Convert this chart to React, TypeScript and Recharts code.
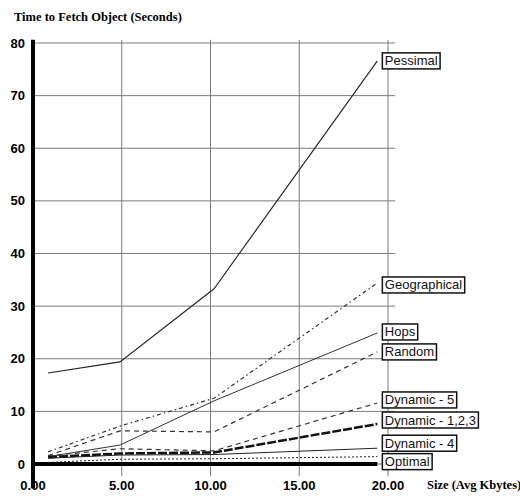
import React from 'react';
import { LineChart, Line, XAxis, YAxis, ReferenceLine } from 'recharts';

// object sizes (avg Kbytes) where each run was measured
const sizes = [0.85, 4.9, 10.2, 19.4];

// time to fetch (seconds) per policy
const pessimal = [17.3, 19.4, 33.3, 76.6];
const geographical = [2.3, 7.2, 12.5, 34.4];
const hops = [1.4, 3.6, 12.0, 24.9];
const random = [1.6, 6.3, 6.1, 21.3];
const dynamic5 = [1.5, 2.9, 2.5, 11.6];
const dynamic123 = [1.3, 2.0, 2.2, 7.6];
const dynamic4 = [1.1, 1.7, 1.8, 3.0];
const optimal = [0.3, 0.9, 1.0, 1.4];

const xTicks = [0, 5, 10, 15, 20];
const yTicks = [0, 10, 20, 30, 40, 50, 60, 70, 80];

const series = [
  { key: 'pessimal', name: 'Pessimal', values: pessimal, stroke: '#222', width: 1.1, dash: undefined, dy: 0 },
  { key: 'geo', name: 'Geographical', values: geographical, stroke: '#333', width: 1.2, dash: '4 3 1.5 3', dy: 2 },
  { key: 'hops', name: 'Hops', values: hops, stroke: '#333', width: 1, dash: undefined, dy: -1 },
  { key: 'random', name: 'Random', values: random, stroke: '#333', width: 1.2, dash: '5 4', dy: 0 },
  { key: 'dyn5', name: 'Dynamic - 5', values: dynamic5, stroke: '#333', width: 1.2, dash: '5 4', dy: -3 },
  { key: 'dyn123', name: 'Dynamic - 1,2,3', values: dynamic123, stroke: '#111', width: 2.5, dash: '9 2', dy: -4 },
  { key: 'dyn4', name: 'Dynamic - 4', values: dynamic4, stroke: '#222', width: 1, dash: undefined, dy: -5 },
  { key: 'optimal', name: 'Optimal', values: optimal, stroke: '#222', width: 1, dash: '2 2', dy: 5 },
];

const data = sizes.map((x, i) => {
  const row: Record<string, number> = { x };
  series.forEach((s) => { row[s.key] = s.values[i]; });
  return row;
});

const LABEL_FONT = '13px "Liberation Sans", Arial, sans-serif';
let ctx: CanvasRenderingContext2D | null = null;
const textWidth = (t: string) => {
  if (!ctx) ctx = document.createElement('canvas').getContext('2d');
  if (!ctx) return t.length * 7;
  ctx.font = LABEL_FONT;
  return ctx.measureText(t).width;
};

// boxed name at the end of each line
const endLabel = (name: string, dy: number) => (props: any) => {
  const { x, y, index } = props;
  if (index !== sizes.length - 1) return null;
  const w = textWidth(name) + 5;
  const bx = x + 5;
  const cy = y + dy;
  return (
    <g key={name}>
      <rect x={bx} y={cy - 8} width={w} height={16} fill="#fff" stroke="#111" strokeWidth={1.5} />
      <text x={bx + 2.5} y={cy + 4.5} fontSize={13} fontFamily='"Liberation Sans", Arial, sans-serif' fill="#111">
        {name}
      </text>
    </g>
  );
};

const tickFont = { fontSize: 13, fontWeight: 700, fontFamily: '"Liberation Sans", Arial, sans-serif', fill: '#000' };

export default function App() {
  const lastX = sizes[sizes.length - 1];
  return (
    <div style={{ position: 'absolute', left: 0, top: 0, width: 520, height: 496, background: '#fff' }}>
      <LineChart width={520} height={496} data={data} margin={{ top: 43, right: 132, left: 0, bottom: 0 }}>
        <XAxis
          dataKey="x"
          type="number"
          domain={[0, 20]}
          ticks={xTicks}
          tickFormatter={(v) => Number(v).toFixed(2)}
          height={32}
          axisLine={false}
          tickLine={false}
          tickSize={12}
          tickMargin={5}
          tick={tickFont}
          allowDataOverflow
        />
        <YAxis
          type="number"
          domain={[0, 80]}
          ticks={yTicks}
          width={33}
          axisLine={false}
          tickLine={false}
          tick={tickFont}
        />
        {yTicks.map((t) => (
          <ReferenceLine key={'h' + t} segment={[{ x: 0, y: t }, { x: 20.4, y: t }]} stroke="#7a7a7a" strokeWidth={1} ifOverflow="visible" />
        ))}
        {xTicks.slice(1).map((t) => (
          <ReferenceLine key={'v' + t} segment={[{ x: t, y: -2.3 }, { x: t, y: 80.6 }]} stroke="#7a7a7a" strokeWidth={1} ifOverflow="visible" />
        ))}
        <ReferenceLine segment={[{ x: 0, y: 0 }, { x: lastX, y: 0 }]} stroke="#000" strokeWidth={4} ifOverflow="visible" />
        <ReferenceLine segment={[{ x: 0, y: -4.6 }, { x: 0, y: 80.6 }]} stroke="#000" strokeWidth={4} ifOverflow="visible" />
        {series.map((s) => (
          <Line
            key={s.key}
            dataKey={s.key}
            name={s.name}
            type="linear"
            stroke={s.stroke}
            strokeWidth={s.width}
            strokeDasharray={s.dash}
            dot={false}
            activeDot={false}
            isAnimationActive={false}
            label={endLabel(s.name, s.dy)}
          />
        ))}
      </LineChart>
      <svg width={520} height={496} style={{ position: 'absolute', left: 0, top: 0, pointerEvents: 'none' }}>
        <text x={14} y={21} fontSize={12.5} fontWeight={700} fontFamily='"Liberation Serif", "Times New Roman", serif' fill="#000">
          Time to Fetch Object (Seconds)
        </text>
        <text x={427} y={489} fontSize={12.5} fontWeight={700} fontFamily='"Liberation Serif", "Times New Roman", serif' fill="#000">
          Size (Avg Kbytes)
        </text>
      </svg>
    </div>
  );
}
